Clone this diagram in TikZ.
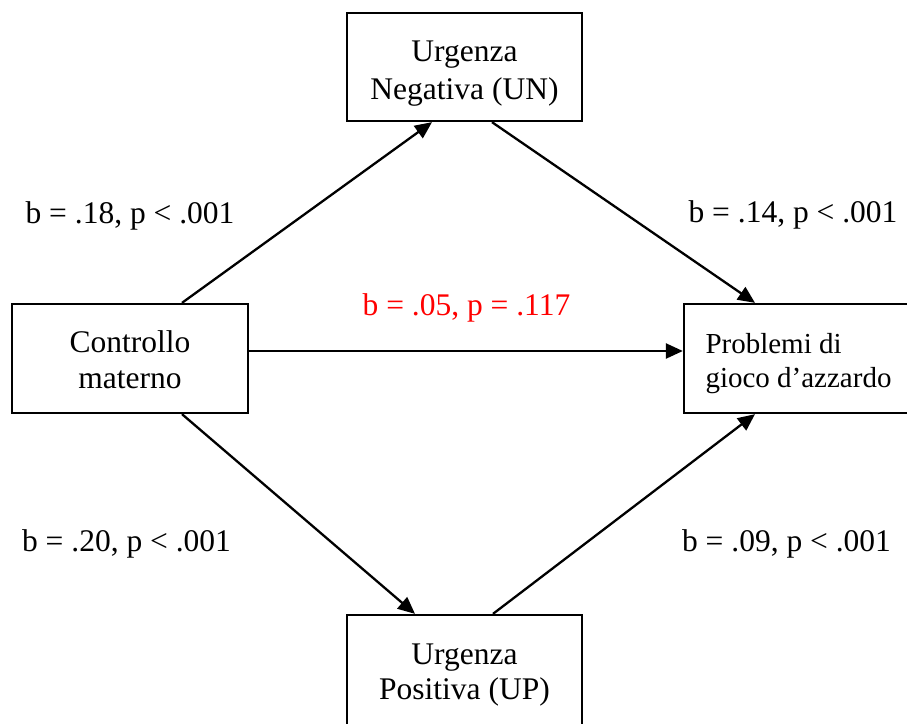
\documentclass[tikz,border=0pt]{standalone}
\usepackage{fontspec}
\setmainfont{Liberation Serif}
\usetikzlibrary{arrows.meta}
\tikzset{
  boxnode/.style={draw=black, line width=2.3pt, rectangle, inner sep=0pt},
  txtnode/.style={inner sep=0pt, align=center},
  lblnode/.style={inner sep=0pt, anchor=base, font=\fontsize{31.5}{38}\selectfont},
  arr/.style={line width=2.3pt, -{Triangle[length=17pt,width=15pt]}},
}
\begin{document}
\begin{tikzpicture}[x=1pt,y=-1pt]
\useasboundingbox (0,0) rectangle (907,723);
% boxes
\node[boxnode, minimum width=235pt, minimum height=108pt] (un) at (464.5,67) {};
\node[boxnode, minimum width=236pt, minimum height=109pt] (ctrl) at (130,358.5) {};
\node[boxnode, minimum width=228pt, minimum height=109pt] (prob) at (798,358.5) {};
\node[boxnode, minimum width=235pt, minimum height=110pt] (up) at (464.5,670) {};
% box texts
\node[txtnode, font=\fontsize{31.5}{38}\selectfont] (unt) at (464.5,74) {Urgenza\\Negativa (UN)};
\node[txtnode, font=\fontsize{31.5}{36}\selectfont] (ctrlt) at (130,359.3) {Controllo\\materno};
\node[txtnode, align=left, font=\fontsize{29}{34}\selectfont] (probt) at (798.5,363.3) {Problemi di\\gioco d’azzardo};
\node[txtnode, font=\fontsize{31.5}{35}\selectfont] (upt) at (464.5,675.3) {Urgenza\\Positiva (UP)};
% connectors
\draw[arr] ([xshift=52pt]ctrl.north) -- ([xshift=-32.5pt]un.south);
\draw[arr] ([xshift=27.5pt]un.south) -- ([xshift=-43pt]prob.north);
\draw[arr] ([yshift=7.5pt]ctrl.east) -- ([yshift=7.5pt]prob.west);
\draw[arr] ([xshift=52pt]ctrl.south) -- ([xshift=-49.5pt]up.north);
\draw[arr] ([xshift=28.5pt]up.north) -- ([xshift=-43pt]prob.south);
% labels
\node[lblnode] (l1) at (130,223) {b = .18, p < .001};
\node[lblnode] (l2) at (793,222) {b = .14, p < .001};
\node[lblnode, text=red] (l3) at (466.5,315) {b = .05, p = .117};
\node[lblnode] (l4) at (126.5,551) {b = .20, p < .001};
\node[lblnode] (l5) at (786.5,551) {b = .09, p < .001};
\end{tikzpicture}
\end{document}
